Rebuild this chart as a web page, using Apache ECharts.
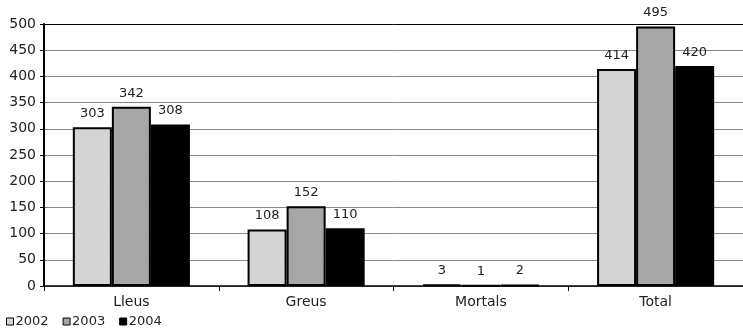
<!DOCTYPE html>
<html>
<head>
<meta charset="utf-8">
<script src="https://cdn.jsdelivr.net/npm/echarts@6/dist/echarts.min.js"></script>
<style>
  html, body { margin: 0; padding: 0; background: #fff; }
  #chart { width: 743px; height: 328px; }
</style>
</head>
<body>
<div id="chart"></div>
<script>
const categories = ['Lleus', 'Greus', 'Mortals', 'Total'];
const years = ['2002', '2003', '2004'];
const values2002 = [303, 108, 3, 414];
const values2003 = [342, 152, 1, 495];
const values2004 = [308, 110, 2, 420];
const colors = ['#d4d4d4', '#a6a6a6', '#000000'];

const font = 'DejaVu Sans';
const seriesData = [values2002, values2003, values2004];
// grey grid lines, the top one (500) drawn black
const gridColors = ['#888', '#888', '#888', '#888', '#888', '#888', '#888', '#888', '#888', '#888', '#000'];

let chart = echarts.init(document.getElementById('chart'));
chart.setOption({
    animation: false,
    textStyle: {fontFamily: font},
    grid: {left: 44, right: -4, top: 24, bottom: 42},
    legend: {
        left: 1, top: 310,
        icon: 'rect',
        itemWidth: 7, itemHeight: 7, itemGap: 14,
        textStyle: {fontSize: 13, color: '#222', padding: [0, 0, 0, -3]},
        data: years.map((y, i) => ({name: y, itemStyle: {color: colors[i], borderColor: '#000', borderWidth: 1}}))
    },
    xAxis: {
        type: 'category',
        data: categories,
        axisLine: {lineStyle: {color: '#000', width: 1.5}},
        axisTick: {show: true, length: 5, lineStyle: {color: '#000'}},
        axisLabel: {fontSize: 14, color: '#222', margin: 9},
        splitLine: {show: false}
    },
    yAxis: {
        type: 'value',
        min: 0, max: 500, interval: 50,
        axisLine: {show: true, lineStyle: {color: '#000', width: 2}},
        axisTick: {show: true, length: 4, lineStyle: {color: '#000'}},
        axisLabel: {fontSize: 14, color: '#222', margin: 8},
        splitLine: {lineStyle: {color: gridColors, width: 1}}
    },
    series: years.map((y, i) => ({
        name: y,
        type: 'bar',
        data: seriesData[i],
        barGap: '0%',
        barCategoryGap: '33%',
        itemStyle: {color: colors[i], borderColor: '#000', borderWidth: 2},
        label: {show: true, position: 'top', distance: 7, fontSize: 13, color: '#222'}
    }))
});
</script>
</body>
</html>
